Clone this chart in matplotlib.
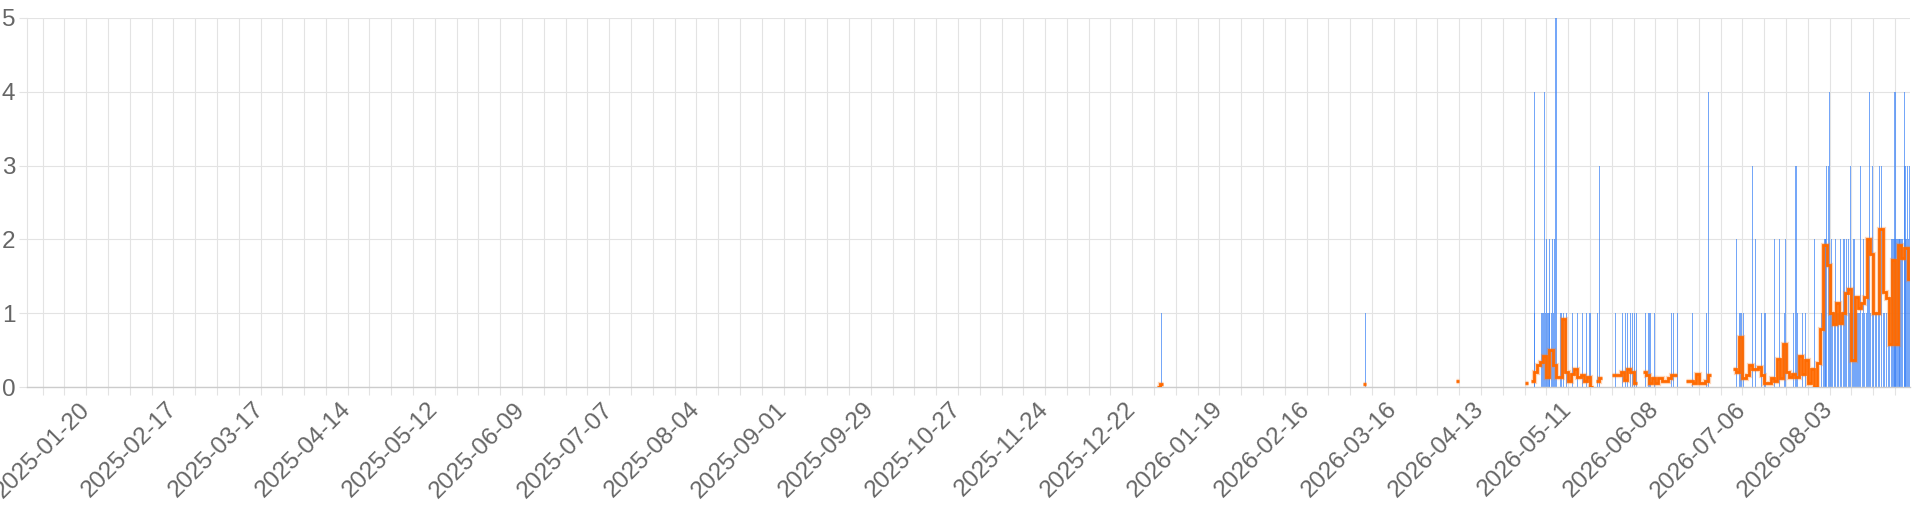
import matplotlib
matplotlib.use("Agg")
import matplotlib.pyplot as plt
import matplotlib.dates as mdates
from matplotlib.ticker import FuncFormatter
import numpy as np
import datetime as dt

plt.rcParams['font.family'] = ['Liberation Sans', 'DejaVu Sans']

# ---- data -----------------------------------------------------------
START = dt.date(2025, 1, 1)           # day 0 of the axis
END_DAY = 604.8                       # right edge of the axis (days after START)
LABEL_ANCHOR = dt.date(2025, 1, 20)   # first labelled Monday (every 4 weeks)

# blue bars: event time (days after START) and value
blue_day = [364.3, 429.8,
            484.1, 484.3, 486.5, 486.8, 487.1, 487.3, 487.8, 488.1, 488.3, 488.6,
            488.9, 489.1, 489.7, 489.9, 490.2, 490.5, 491.1, 492.7, 493.5, 494.5,
            496.4, 498.0, 499.5, 500.9, 502.0, 504.5, 505.0, 510.1, 512.5, 513.3,
            514.0, 515.1, 515.8, 516.3, 517.0, 519.8, 520.9, 521.3, 522.8, 528.1,
            528.8, 530.0, 535.0, 539.3, 540.0, 549.0, 550.2, 550.7, 551.2, 554.1,
            555.2, 557.2, 558.0, 558.3, 561.2, 563.0, 564.4, 564.7, 567.3, 568.2,
            568.7, 570.3, 571.1, 574.0, 576.4, 576.9, 577.5, 577.7, 578.0, 578.5,
            578.9, 579.3, 579.6, 580.0, 580.5, 581.0, 581.4, 581.9, 582.5, 582.9,
            583.6, 584.0, 584.4, 585.0, 585.4, 585.8, 586.4, 586.8, 587.2, 587.6,
            588.1, 588.5, 589.0, 589.5, 589.8, 590.3, 590.7, 591.3, 591.7, 592.1,
            592.8, 593.2, 593.6, 594.1, 594.6, 595.1, 595.7, 596.2, 596.7, 597.3,
            597.8, 598.3, 598.9, 599.2, 599.5, 599.8, 600.0, 600.3, 600.7, 601.1,
            601.4, 601.6, 602.0, 602.4, 602.9, 603.2, 603.5, 603.9, 604.2, 604.6]
blue_val = [1, 1,
            4, 1, 1, 1, 1, 4, 1, 2, 1, 1,
            1, 2, 1, 2, 1, 2, 6, 1, 1, 1,
            1, 1, 1, 1, 1, 1, 3, 1, 1, 1,
            1, 1, 1, 1, 1, 1, 1, 1, 1, 1,
            1, 1, 1, 1, 4, 2, 1, 1, 1, 3,
            2, 1, 1, 1, 2, 2, 1, 2, 1, 3,
            1, 1, 1, 2, 1, 1, 2, 2, 3, 3,
            4, 1, 2, 1, 1, 2, 1, 1, 2, 1,
            2, 1, 2, 2, 1, 3, 1, 2, 1, 1,
            1, 1, 3, 1, 2, 1, 1, 2, 4, 1,
            3, 1, 1, 1, 2, 3, 3, 1, 1, 1,
            1, 1, 2, 2, 2, 2, 4, 2, 2, 2,
            2, 2, 2, 2, 4, 3, 2, 3, 2, 3]

# orange daily line (days after START); missing days are gaps
orange_day = [363, 364, 429, 459,
              481, 483, 484, 485, 486, 487, 488, 489, 490, 491, 492, 493, 494,
              495, 496, 497, 498, 499, 500, 501, 502, 504, 505,
              509, 510, 511, 512, 513, 514, 515, 516,
              519, 520, 521, 522, 523, 524, 525, 526, 527, 528, 529,
              533, 534, 535, 536, 537, 538, 539, 540,
              548, 549, 550, 551, 552, 553, 554, 555, 556, 557, 558, 559, 560,
              561, 562, 563, 564, 565, 566, 567, 568, 569, 570, 571, 572, 573,
              574, 575, 576, 577, 578, 579, 580, 581, 582, 583, 584, 585, 586,
              587, 588, 589, 590, 591, 592, 593, 594, 595, 596, 597, 598, 599,
              600, 601, 602, 603, 604]
orange_val = [0.0, 0.04, 0.04, 0.08,
              0.05, 0.08, 0.21, 0.30, 0.34, 0.42, 0.13, 0.50, 0.30, 0.13, 0.13, 0.92, 0.21,
              0.08, 0.17, 0.25, 0.13, 0.16, 0.08, 0.13, 0.0, 0.08, 0.12,
              0.16, 0.16, 0.16, 0.21, 0.10, 0.25, 0.21, 0.05,
              0.21, 0.16, 0.05, 0.12, 0.05, 0.12, 0.08, 0.08, 0.12, 0.16, 0.16,
              0.08, 0.08, 0.05, 0.17, 0.05, 0.05, 0.08, 0.16,
              0.25, 0.21, 0.68, 0.12, 0.16, 0.30, 0.24, 0.24, 0.27, 0.16, 0.05, 0.05, 0.12,
              0.08, 0.38, 0.12, 0.58, 0.21, 0.14, 0.17, 0.13, 0.42, 0.17, 0.37, 0.05, 0.25,
              0.0, 0.33, 0.79, 1.92, 1.65, 1.0, 0.85, 1.14, 0.87, 1.0, 1.27, 1.33, 0.37,
              1.22, 1.07, 1.14, 1.22, 2.0, 1.80, 1.0, 1.0, 2.14, 1.29, 1.2, 0.58, 1.72,
              0.58, 1.92, 1.75, 1.88, 1.47]

y_ticks = [0, 1, 2, 3, 4, 5]

# ---- figure ---------------------------------------------------------
W, H = 1920, 512
fig = plt.figure(figsize=(W / 100, H / 100), dpi=100)
L, R, T, B = 27, 1910, 18, 387
ax = fig.add_axes([L / W, 1 - B / H, (R - L) / W, (B - T) / H])

base = mdates.date2num(START)

# blue bars
ax.bar(base + np.array(blue_day), blue_val, width=0.36, color='#3b82f6',
       alpha=0.7, linewidth=0, zorder=2)

# orange step line, one horizontal step per day, broken at missing days
od = np.array(orange_day)
ov = np.array(orange_val, dtype=float)
breaks = np.where(np.diff(od) != 1)[0] + 1
for days, vals in zip(np.split(od, breaks), np.split(ov, breaks)):
    edges = np.append(days, days[-1] + 1)
    xs = np.repeat(edges, 2)[1:-1]
    ys = np.repeat(vals, 2)
    ax.plot(base + xs, ys, color='#ff7a1a', lw=3.8, alpha=0.3, zorder=3,
            solid_joinstyle='miter', solid_capstyle='butt')
    ax.plot(base + xs, ys, color='#ff6a00', lw=2.0, zorder=4,
            solid_joinstyle='miter', solid_capstyle='butt')

# axes
ax.set_xlim(base, base + END_DAY)
ax.set_ylim(0, 5)
ax.set_yticks(y_ticks)

ax.xaxis.set_major_locator(mdates.WeekdayLocator(byweekday=mdates.MO))


def fmt(x, pos):
    d = mdates.num2date(x).date()
    if (d - LABEL_ANCHOR).days % 28 == 0:
        return d.strftime('%Y-%m-%d')
    return ''


ax.xaxis.set_major_formatter(FuncFormatter(fmt))

grid_c = '#e3e3e3'
ax.grid(True, color=grid_c, linewidth=0.8, zorder=0)
ax.set_axisbelow(True)
for s in ('top', 'right'):
    ax.spines[s].set_visible(False)
ax.spines['left'].set_color(grid_c)
ax.spines['left'].set_linewidth(0.8)
ax.spines['bottom'].set_color('#cccccc')
ax.spines['bottom'].set_linewidth(1.0)

ax.tick_params(axis='both', length=5.8, width=0.8, color=grid_c,
               labelsize=17.5, labelcolor='#666666')
ax.tick_params(axis='y', pad=2.5)
ax.tick_params(axis='x', pad=8)

for t in ax.get_xticklabels():
    t.set_rotation(45)
    t.set_ha('right')
    t.set_va('center')
    t.set_rotation_mode('anchor')

fig.savefig('out.png', dpi=100, facecolor='white')
